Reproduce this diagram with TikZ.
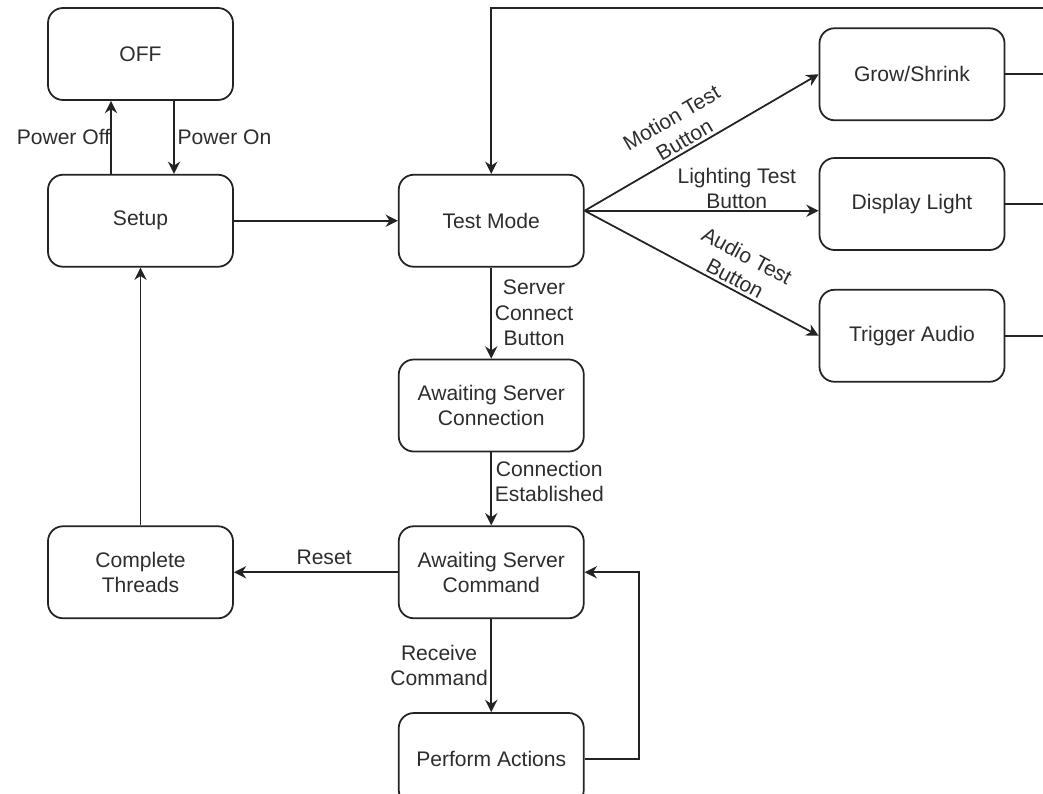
\documentclass[tikz,border=0pt]{standalone}
\usepackage{fontspec}
\setmainfont{Liberation Sans}
\usetikzlibrary{arrows.meta,calc,positioning}
\definecolor{lineColor}{RGB}{35,35,35}
\definecolor{textColor}{RGB}{45,45,45}
\tikzset{state/.style={draw=lineColor, line width=1pt, align=center, text=textColor, minimum width=3.7cm, minimum height=1.84cm, rounded corners=.3cm, font=\fontsize{12}{14.5}\selectfont}}
\tikzset{trans/.style={draw=none, align=center, text=textColor, font=\fontsize{12}{14.5}\selectfont, inner sep=1.5pt}}

\begin{document}
\begin{tikzpicture}[node distance=1.46cm and 3.28cm]
	\useasboundingbox (0,0) rectangle (20.86,-15.88);
	% Nodes
		\node (off) [state] at (2.81,-1.08) {OFF};
		\node (setup) [state, below=of off] {Setup};
		\node (testmode) [state, right=of setup] {Test Mode};
		\node (awaitconn) [state, below=1.82cm of testmode] {Awaiting Server\\ Connection};
		\node (awaitcmd) [state, below=of awaitconn] {Awaiting Server\\ Command};
		\node (perform) [state, below=1.86cm of awaitcmd] {Perform Actions};
		\node (threads) [state, left=of awaitcmd] {Complete\\ Threads};
		
		\node (growshrink) [state, right=4.68cm of testmode, yshift=2.93cm] {Grow/Shrink};
		\node (display) [state, below=0.72cm of growshrink] {Display Light};
		\node (trigger) [state, below=0.76cm of display] {Trigger Audio};
		
		\coordinate (fan) at ($(testmode.east)+(0,0.2)$);
		\coordinate (topright) at (20.86,-0.16);
		
		% Connectors
		\begin{scope}[draw=lineColor, line width=1pt, -{Stealth[length=7pt, width=7pt]}]
		
		\draw ([xshift=-0.59cm]setup.north) -- node[trans, anchor=east, inner sep=0pt] {Power Off} ([xshift=-0.59cm]off.south);
		\draw ([xshift=0.67cm]off.south) -- node[trans, anchor=west] {Power On} ([xshift=0.67cm]setup.north);
		\draw (setup) -- (testmode);
		\draw (topright) -| (testmode.north);
		\draw (fan) -- node[trans, pos=0.45, sloped, anchor=south] {Motion Test\\ Button} (growshrink.west);
		\draw (fan) -- node[trans, pos=0.65, anchor=south, inner sep=0.5pt] {Lighting Test\\ Button} (fan -| display.west);
		\draw (fan) -- node[trans, pos=0.62, sloped, anchor=south] {Audio Test\\ Button} (trigger.west);
		\draw (testmode) -- node[trans, anchor=west] {Server\\ Connect\\ Button} (awaitconn);
		\draw (awaitconn) -- node[trans, pos=0.4, anchor=west] {Connection\\ Established} (awaitcmd);
		\draw (awaitcmd) -- node[trans, anchor=east] {Receive\\ Command} (perform);
		\draw (awaitcmd) -- node[trans, pos=0.45, anchor=south, inner sep=4pt] {Reset} (threads);
		\draw (threads) -- (setup);
		\draw (perform.east) -- ++(1.08,0) |- (awaitcmd.east);
		
		\end{scope}
		
		\begin{scope}[draw=lineColor, line width=1pt]
		\draw (growshrink.east) -- (growshrink.east -| topright);
		\draw (display.east) -- (display.east -| topright);
		\draw (trigger.east) -- (trigger.east -| topright);
		\end{scope}

\end{tikzpicture}
\end{document}
